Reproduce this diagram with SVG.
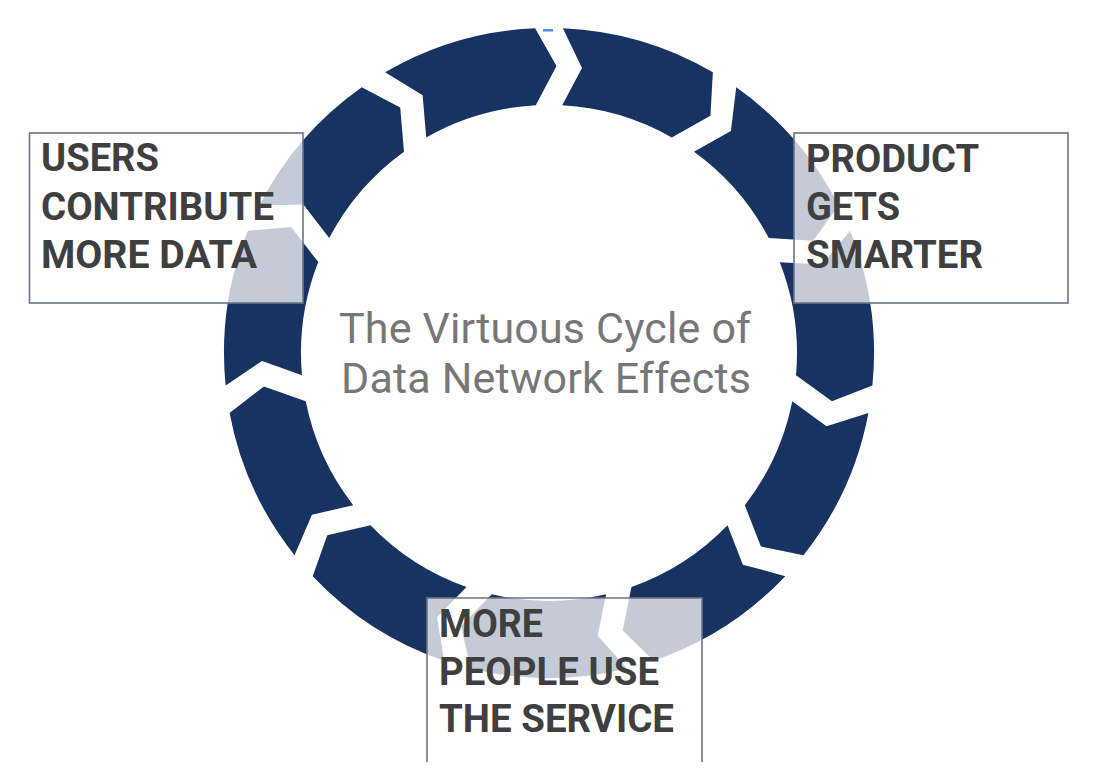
<svg xmlns="http://www.w3.org/2000/svg" xmlns:xlink="http://www.w3.org/1999/xlink" width="1102" height="784" viewBox="0 0 1102 784">
  <style>
    .seg { fill: #163361; }
    .box { fill: #ffffff; fill-opacity: 0.75; }
    .edge { fill: none; stroke: #6a7588; stroke-width: 1.6; }
    .lbl { font-family: Roboto, "Liberation Sans", sans-serif; font-weight: 700; font-size: 39px; fill: #3f3f3f; }
    .title { font-family: Roboto, "Liberation Sans", sans-serif; font-weight: 400; font-size: 43px; fill: #777777; }
  </style>
  <defs>
    <path id="seg" class="seg" d="M562.89,28.30 A325,325 0 0 1 712.86,72.33 L710.43,115.70 L671.79,137.53 A248,248 0 0 0 562.20,105.35 L581.99,67.90 Z"/>
  </defs>
  <rect width="1102" height="784" fill="#ffffff"/>
  <g id="connectors">
    <use xlink:href="#seg" href="#seg" transform="rotate(0 549 353)"/>
    <use xlink:href="#seg" href="#seg" transform="rotate(32.7273 549 353)"/>
    <use xlink:href="#seg" href="#seg" transform="rotate(65.4545 549 353)"/>
    <use xlink:href="#seg" href="#seg" transform="rotate(98.1818 549 353)"/>
    <use xlink:href="#seg" href="#seg" transform="rotate(130.9091 549 353)"/>
    <use xlink:href="#seg" href="#seg" transform="rotate(163.6364 549 353)"/>
    <use xlink:href="#seg" href="#seg" transform="rotate(196.3636 549 353)"/>
    <use xlink:href="#seg" href="#seg" transform="rotate(229.0909 549 353)"/>
    <use xlink:href="#seg" href="#seg" transform="rotate(261.8182 549 353)"/>
    <use xlink:href="#seg" href="#seg" transform="rotate(294.5455 549 353)"/>
    <use xlink:href="#seg" href="#seg" transform="rotate(327.2727 549 353)"/>
    <rect x="543" y="29" width="10" height="2.5" fill="#4a90e2"/>
  </g>
  <g id="title">
    <text class="title" x="339" y="343" textLength="412" lengthAdjust="spacing">The Virtuous Cycle of</text>
    <text class="title" x="341" y="393" textLength="410" lengthAdjust="spacing">Data Network Effects</text>
  </g>
  <g id="node-users">
    <rect class="box" x="29.5" y="133" width="273.5" height="170"/>
    <rect class="edge" x="29.5" y="133" width="273.5" height="170"/>
    <text class="lbl" x="41" y="171" textLength="118" lengthAdjust="spacingAndGlyphs">USERS</text>
    <text class="lbl" x="41" y="220" textLength="233" lengthAdjust="spacingAndGlyphs">CONTRIBUTE</text>
    <text class="lbl" x="41" y="268" textLength="216" lengthAdjust="spacingAndGlyphs">MORE DATA</text>
  </g>
  <g id="node-product">
    <rect class="box" x="794" y="133" width="274" height="170"/>
    <rect class="edge" x="794" y="133" width="274" height="170"/>
    <text class="lbl" x="806" y="172" textLength="173" lengthAdjust="spacingAndGlyphs">PRODUCT</text>
    <text class="lbl" x="806" y="220" textLength="94" lengthAdjust="spacingAndGlyphs">GETS</text>
    <text class="lbl" x="806" y="268" textLength="177" lengthAdjust="spacingAndGlyphs">SMARTER</text>
  </g>
  <g id="node-people">
    <rect class="box" x="427" y="598" width="275" height="164"/>
    <path class="edge" d="M427,762 V598 H702 V762"/>
    <text class="lbl" x="439" y="637" textLength="104" lengthAdjust="spacingAndGlyphs">MORE</text>
    <text class="lbl" x="439" y="685" textLength="220" lengthAdjust="spacingAndGlyphs">PEOPLE USE</text>
    <text class="lbl" x="439" y="732" textLength="235" lengthAdjust="spacingAndGlyphs">THE SERVICE</text>
  </g>
</svg>
